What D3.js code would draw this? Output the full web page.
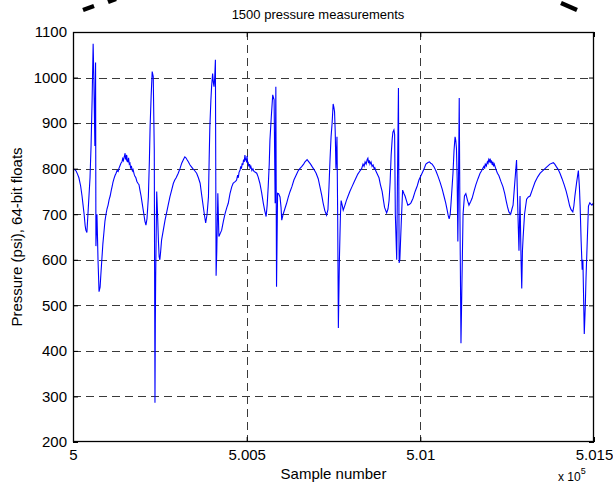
<!DOCTYPE html>
<html>
<head>
<meta charset="utf-8">
<script src="https://cdn.jsdelivr.net/npm/d3@7"></script>
<style>
  html, body { margin: 0; padding: 0; background: #fff; }
  svg { display: block; }
  text { font-family: "Liberation Sans", Arial, Helvetica, sans-serif; fill: #000; }
</style>
</head>
<body>
<div id="chart"></div>
<script>
// ---------------- data ----------------
const titleText = "1500 pressure measurements";
const xLabelText = "Sample number";
const yLabelText = "Pressure (psi), 64-bit floats";

const sampleBase = 500000;
// sample offsets from 500000
const sampleOffset = [
0,5,9,13,17,22,26,29,32,35,37,40,43,46,49,52,55,58,60,62,63,65,66,69,72,75,78,80,83,86,89,92,95,98,101,104,107,110,113,115,118,121,124,127,130,132,135,138,141,143,145,147,149,150,151,153,154,155,156,158,160,162,164,166,168,171,173,176,178,181,184,187,190,193,196,199,202,205,207,210,213,217,220,222,225,228,231,234,236,237,238,241,244,246,248,250,252,255,260,265,270,274,279,284,289,293,297,303,308,313,318,322,325,328,332,337,341,345,350,356,361,366,370,375,379,382,386,390,392,394,397,399,402,404,406,408,410,412,414,417,420,424,428,433,438,443,447,452,457,461,464,468,471,474,476,478,481,483,485,487,489,491,493,495,497,498,500,501,503,504,506,508,510,512,515,518,521,525,529,533,538,543,548,552,556,559,562,565,567,571,575,579,582,584,586,589,592,596,599,601,605,610,615,620,625,630,636,642,648,653,659,664,668,674,679,684,688,694,700,706,711,716,720,725,730,734,737,740,743,746,749,751,753,755,757,760,762,764,767,770,772,775,778,783,787,792,797,803,809,815,820,826,831,835,838,841,844,847,849,851,853,855,858,861,864,867,869,872,875,878,881,885,890,894,897,903,907,910,913,916,919,921,924,926,928,932,934,937,939,941,945,949,953,956,960,964,969,973,979,985,991,996,1002,1008,1012,1016,1021,1026,1030,1034,1040,1045,1051,1057,1063,1068,1073,1077,1080,1083,1086,1088,1091,1094,1097,1100,1102,1104,1106,1108,1110,1112,1114,1117,1120,1123,1127,1131,1136,1140,1145,1149,1155,1160,1166,1172,1176,1180,1183,1185,1187,1190,1193,1195,1197,1199,1201,1203,1205,1207,1209,1211,1213,1215,1218,1222,1226,1232,1238,1243,1247,1251,1255,1260,1264,1267,1271,1274,1277,1279,1281,1284,1287,1290,1292,1294,1296,1300,1306,1311,1316,1323,1330,1338,1345,1352,1359,1366,1373,1379,1383,1387,1391,1397,1402,1408,1414,1420,1425,1430,1434,1439,1442,1445,1450,1455,1458,1460,1463,1466,1468,1470,1472,1475,1477,1481,1484,1488,1491,1494,1497,1500
];
const pressure = [
800,798,795,788,780,762,740,720,700,675,665,660,700,740,780,850,950,1074,1000,900,850,1033,630,700,600,530,540,565,600,635,660,685,700,712,720,732,740,752,762,770,778,785,790,796,794,800,806,812,815,822,818,825,830,834,822,820,830,828,816,815,824,810,812,800,806,795,798,788,784,780,772,768,765,752,740,725,710,695,685,676,690,738,820,892,960,1013,1002,841,286,457,560,750,687,640,607,600,615,643,665,687,705,720,738,753,768,775,780,790,800,812,820,826,824,820,815,808,804,800,796,790,780,768,745,717,695,681,700,738,820,892,950,980,1009,990,980,1000,1039,565,620,746,651,658,665,685,702,715,724,745,760,768,770,772,775,786,780,792,797,805,800,812,808,820,815,830,818,822,814,828,812,815,805,810,800,805,796,800,794,792,790,782,768,748,724,708,695,720,760,810,863,915,962,951,724,980,541,746,745,738,715,687,700,712,724,738,750,760,775,785,795,800,805,810,815,820,815,810,805,798,790,778,760,742,725,708,698,710,760,820,870,900,942,935,925,880,800,870,700,450,600,700,730,720,709,720,730,740,750,760,770,780,788,795,800,810,805,815,810,820,823,812,818,810,815,805,808,800,802,795,790,785,780,765,750,730,715,703,712,730,770,830,865,880,885,875,700,600,760,977,593,600,680,753,745,740,730,720,722,725,735,750,762,775,785,795,802,810,813,815,812,810,803,795,783,770,755,740,725,710,698,690,700,720,755,790,840,870,862,845,780,640,780,955,700,417,560,700,740,745,730,720,728,735,752,765,778,790,795,801,805,800,810,806,815,812,820,816,822,812,818,808,815,805,810,805,798,790,785,772,760,745,730,716,705,700,712,720,760,790,819,760,700,620,740,600,537,620,650,700,733,738,740,755,770,782,790,795,800,805,810,812,813,810,805,798,790,778,765,750,735,718,710,705,718,740,770,796,760,720,640,578,600,520,437,500,560,650,718,725,722,720,723,722
];

const xTickValues = [500000, 500500, 501000, 501500];
const xTickLabels = ["5", "5.005", "5.01", "5.015"];
const yTickValues = [200, 300, 400, 500, 600, 700, 800, 900, 1000, 1100];
const yTickLabels = ["200", "300", "400", "500", "600", "700", "800", "900", "1000", "1100"];

// ---------------- layout ----------------
const W = 613, H = 485;
const mL = 73, mR = 594, mT = 32, mB = 442;

const svg = d3.select("#chart").append("svg")
  .attr("width", W).attr("height", H)
  .attr("viewBox", `0 0 ${W} ${H}`);

svg.append("rect").attr("width", W).attr("height", H).attr("fill", "#fff");

const x = d3.scaleLinear().domain([500000, 501500]).range([mL, mR]);
const y = d3.scaleLinear().domain([200, 1100]).range([mB, mT]);

// grid
const grid = svg.append("g").attr("stroke", "#3a3a3a").attr("stroke-width", 1)
  .attr("stroke-dasharray", "8,5").attr("fill", "none");
xTickValues.slice(1, -1).forEach(v => {
  grid.append("line").attr("x1", Math.round(x(v)) + 0.5).attr("x2", Math.round(x(v)) + 0.5)
    .attr("y1", mT).attr("y2", mB);
});
yTickValues.slice(1, -1).forEach(v => {
  grid.append("line").attr("y1", Math.round(y(v)) + 0.5).attr("y2", Math.round(y(v)) + 0.5)
    .attr("x1", mL).attr("x2", mR);
});

// data line
const n = Math.min(sampleOffset.length, pressure.length);
const pts = d3.range(n).map(i => [sampleBase + sampleOffset[i], pressure[i]]);
const line = d3.line().x(d => x(d[0])).y(d => y(d[1]));
svg.append("path").datum(pts)
  .attr("d", line)
  .attr("fill", "none")
  .attr("stroke", "#0000ff")
  .attr("stroke-width", 1.1)
  .attr("stroke-linejoin", "miter");

// axes
const fontSize = 15;
const xAxis = d3.axisBottom(x).tickValues(xTickValues)
  .tickFormat((d, i) => xTickLabels[i]).tickSize(-5).tickSizeOuter(0).tickPadding(7);
const yAxis = d3.axisLeft(y).tickValues(yTickValues)
  .tickFormat((d, i) => yTickLabels[i]).tickSize(-5).tickSizeOuter(0).tickPadding(6);

const gx = svg.append("g").attr("transform", `translate(0,${mB})`).call(xAxis);
const gy = svg.append("g").attr("transform", `translate(${mL},0)`).call(yAxis);
[gx, gy].forEach(g => {
  g.select(".domain").remove();
  g.selectAll("text").attr("font-size", fontSize).attr("font-family", "Liberation Sans, Arial, sans-serif").attr("fill", "#000");
  g.selectAll("line").attr("stroke", "#000");
});
// top/right inward ticks
const gxt = svg.append("g").attr("transform", `translate(0,${mT})`)
  .call(d3.axisTop(x).tickValues(xTickValues).tickSize(-5).tickSizeOuter(0).tickFormat(""));
const gyr = svg.append("g").attr("transform", `translate(${mR},0)`)
  .call(d3.axisRight(y).tickValues(yTickValues).tickSize(-5).tickSizeOuter(0).tickFormat(""));
[gxt, gyr].forEach(g => { g.select(".domain").remove(); g.selectAll("line").attr("stroke", "#000"); });

// box
svg.append("rect").attr("x", mL + 0.5).attr("y", mT + 0.5)
  .attr("width", mR - mL - 1).attr("height", mB - mT - 1)
  .attr("fill", "none").attr("stroke", "#000").attr("stroke-width", 1.3);

// title & labels
svg.append("text").attr("x", 318).attr("y", 19)
  .attr("text-anchor", "middle").attr("font-size", 13).text(titleText);
svg.append("text").attr("x", (mL + mR) / 2).attr("y", 479)
  .attr("text-anchor", "middle").attr("font-size", fontSize).text(xLabelText);
svg.append("text").attr("transform", `translate(22,${(mT + mB) / 2}) rotate(-90)`)
  .attr("text-anchor", "middle").attr("font-size", fontSize).text(yLabelText);

// exponent label
const ex = svg.append("text").attr("x", 558).attr("y", 481).attr("font-size", 12);
ex.append("tspan").text("x 10");
ex.append("tspan").attr("dy", -7).attr("font-size", 9).text("5");

// decorative thick dashes at top (parts of a dashed outline)
const deco = [[83, 10, 94, 6], [108, 2, 116, -1], [561, 3, 577, 10]];
svg.append("g").selectAll("line").data(deco).join("line")
  .attr("x1", d => d[0]).attr("y1", d => d[1]).attr("x2", d => d[2]).attr("y2", d => d[3])
  .attr("stroke", "#000").attr("stroke-width", 4.5);
</script>
</body>
</html>
